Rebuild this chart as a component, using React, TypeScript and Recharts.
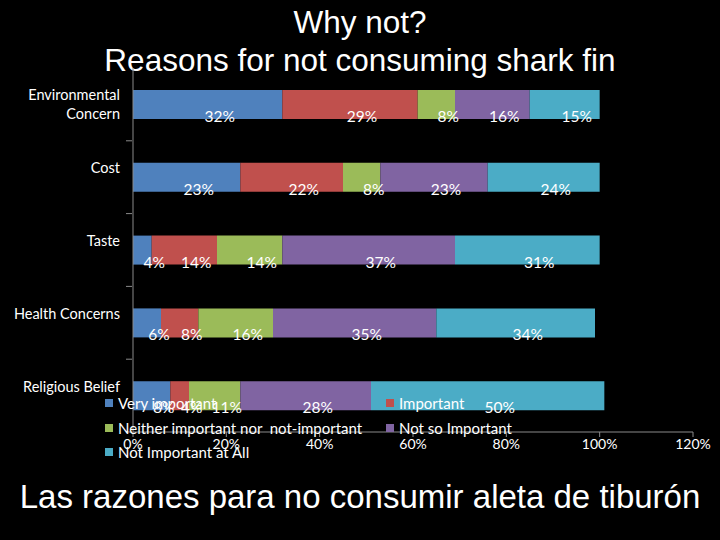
import { BarChart, Bar, XAxis, YAxis, LabelList } from "recharts"

const reasons = ["Environmental Concern", "Cost", "Taste", "Health Concerns", "Religious Belief"]
const veryImportant = [32, 23, 4, 6, 8]
const important = [29, 22, 14, 8, 4]
const neither = [8, 8, 14, 16, 11]
const notSo = [16, 23, 37, 35, 28]
const notAtAll = [15, 24, 31, 34, 50]
const xTicks = [0, 20, 40, 60, 80, 100, 120]

const series = [
  { key: "veryImportant", name: "Very important", color: "#4F81BD", values: veryImportant },
  { key: "important", name: "Important", color: "#C0504D", values: important },
  { key: "neither", name: "Neither important nor  not-important", color: "#9BBB59", values: neither },
  { key: "notSo", name: "Not so Important", color: "#8064A2", values: notSo },
  { key: "notAtAll", name: "Not Important at All", color: "#4BACC6", values: notAtAll },
]

const data = reasons.map((name, i) => {
  const row: any = { name }
  series.forEach((s) => (row[s.key] = s.values[i]))
  return row
})

const FONT = "Lato, 'Open Sans', sans-serif"
const AXIS = "#8a8a8a"

const CategoryTick = (props: any) => {
  const { x, y, payload } = props
  const words = payload.value === "Environmental Concern" ? ["Environmental", "Concern"] : [payload.value]
  return (
    <g>
      <line x1={x + 7} x2={x + 1} y1={y + 36.4} y2={y + 36.4} stroke={AXIS} />
      <text x={x - 5} y={y - 10} textAnchor="end" fill="#fff" fontSize={14.5} fontFamily={FONT} dominantBaseline="central">
        {words.map((w, i) => (
          <tspan key={i} x={x - 5} dy={i === 0 ? 0 : 19}>
            {w}
          </tspan>
        ))}
      </text>
    </g>
  )
}

const SegmentLabel = (props: any) => {
  const { x, y, width, height, value } = props
  return (
    <text x={x + width / 2 + 12} y={y + height - 3} textAnchor="middle" fill="#fff" fontSize={15.5} fontFamily={FONT} dominantBaseline="central">
      {value}%
    </text>
  )
}

export default function App() {
  const legendCol1 = [series[0], series[2], series[4]]
  const legendCol2 = [series[1], series[3]]
  const legendItem = (s: any, top: number, left: number) => (
    <div key={s.key} style={{ position: "absolute", top, left, display: "flex", alignItems: "center", whiteSpace: "pre" }}>
      <span style={{ width: 8, height: 8, background: s.color, marginRight: 5, display: "inline-block" }} />
      <span style={{ color: "#fff", fontSize: 15, fontFamily: FONT }}>{s.name}</span>
    </div>
  )
  return (
    <div style={{ position: "fixed", left: 0, top: 0, width: 720, height: 540, background: "#000", overflow: "hidden" }}>
      <div style={{ position: "absolute", top: 3, width: 720, textAlign: "center", color: "#fff", fontFamily: "'Liberation Sans', Arial, sans-serif", fontSize: 31.5, lineHeight: "38px" }}>
        Why not?
        <br />
        Reasons for not consuming shark fin
      </div>
      <div style={{ position: "absolute", top: 0, left: 0 }}>
        <BarChart width={720} height={540} data={data} layout="vertical" margin={{ top: 68, right: 27, bottom: 88, left: 0 }} barSize={29}>
          <XAxis
            type="number"
            domain={[0, 120]}
            ticks={xTicks}
            tickFormatter={(v) => `${v}%`}
            stroke={AXIS}
            tickSize={5}
            height={20}
            tick={{ fill: "#fff", fontSize: 14, fontFamily: FONT }}
            interval={0}
          />
          <YAxis type="category" dataKey="name" width={133} stroke={AXIS} tickLine={false} tick={<CategoryTick />} interval={0} />
          {series.map((s) => (
            <Bar key={s.key} dataKey={s.key} name={s.name} stackId="a" fill={s.color} isAnimationActive={false}>
              <LabelList dataKey={s.key} content={<SegmentLabel />} />
            </Bar>
          ))}
        </BarChart>
      </div>
      {legendCol1.map((s, i) => legendItem(s, 394 + i * 24.5, 105))}
      {legendCol2.map((s, i) => legendItem(s, 394 + i * 24.5, 386))}
      <div style={{ position: "absolute", top: 477, width: 720, textAlign: "center", color: "#fff", fontFamily: "'Liberation Sans', Arial, sans-serif", fontSize: 33, lineHeight: "40px" }}>
        Las razones para no consumir aleta de tiburón
      </div>
    </div>
  )
}
